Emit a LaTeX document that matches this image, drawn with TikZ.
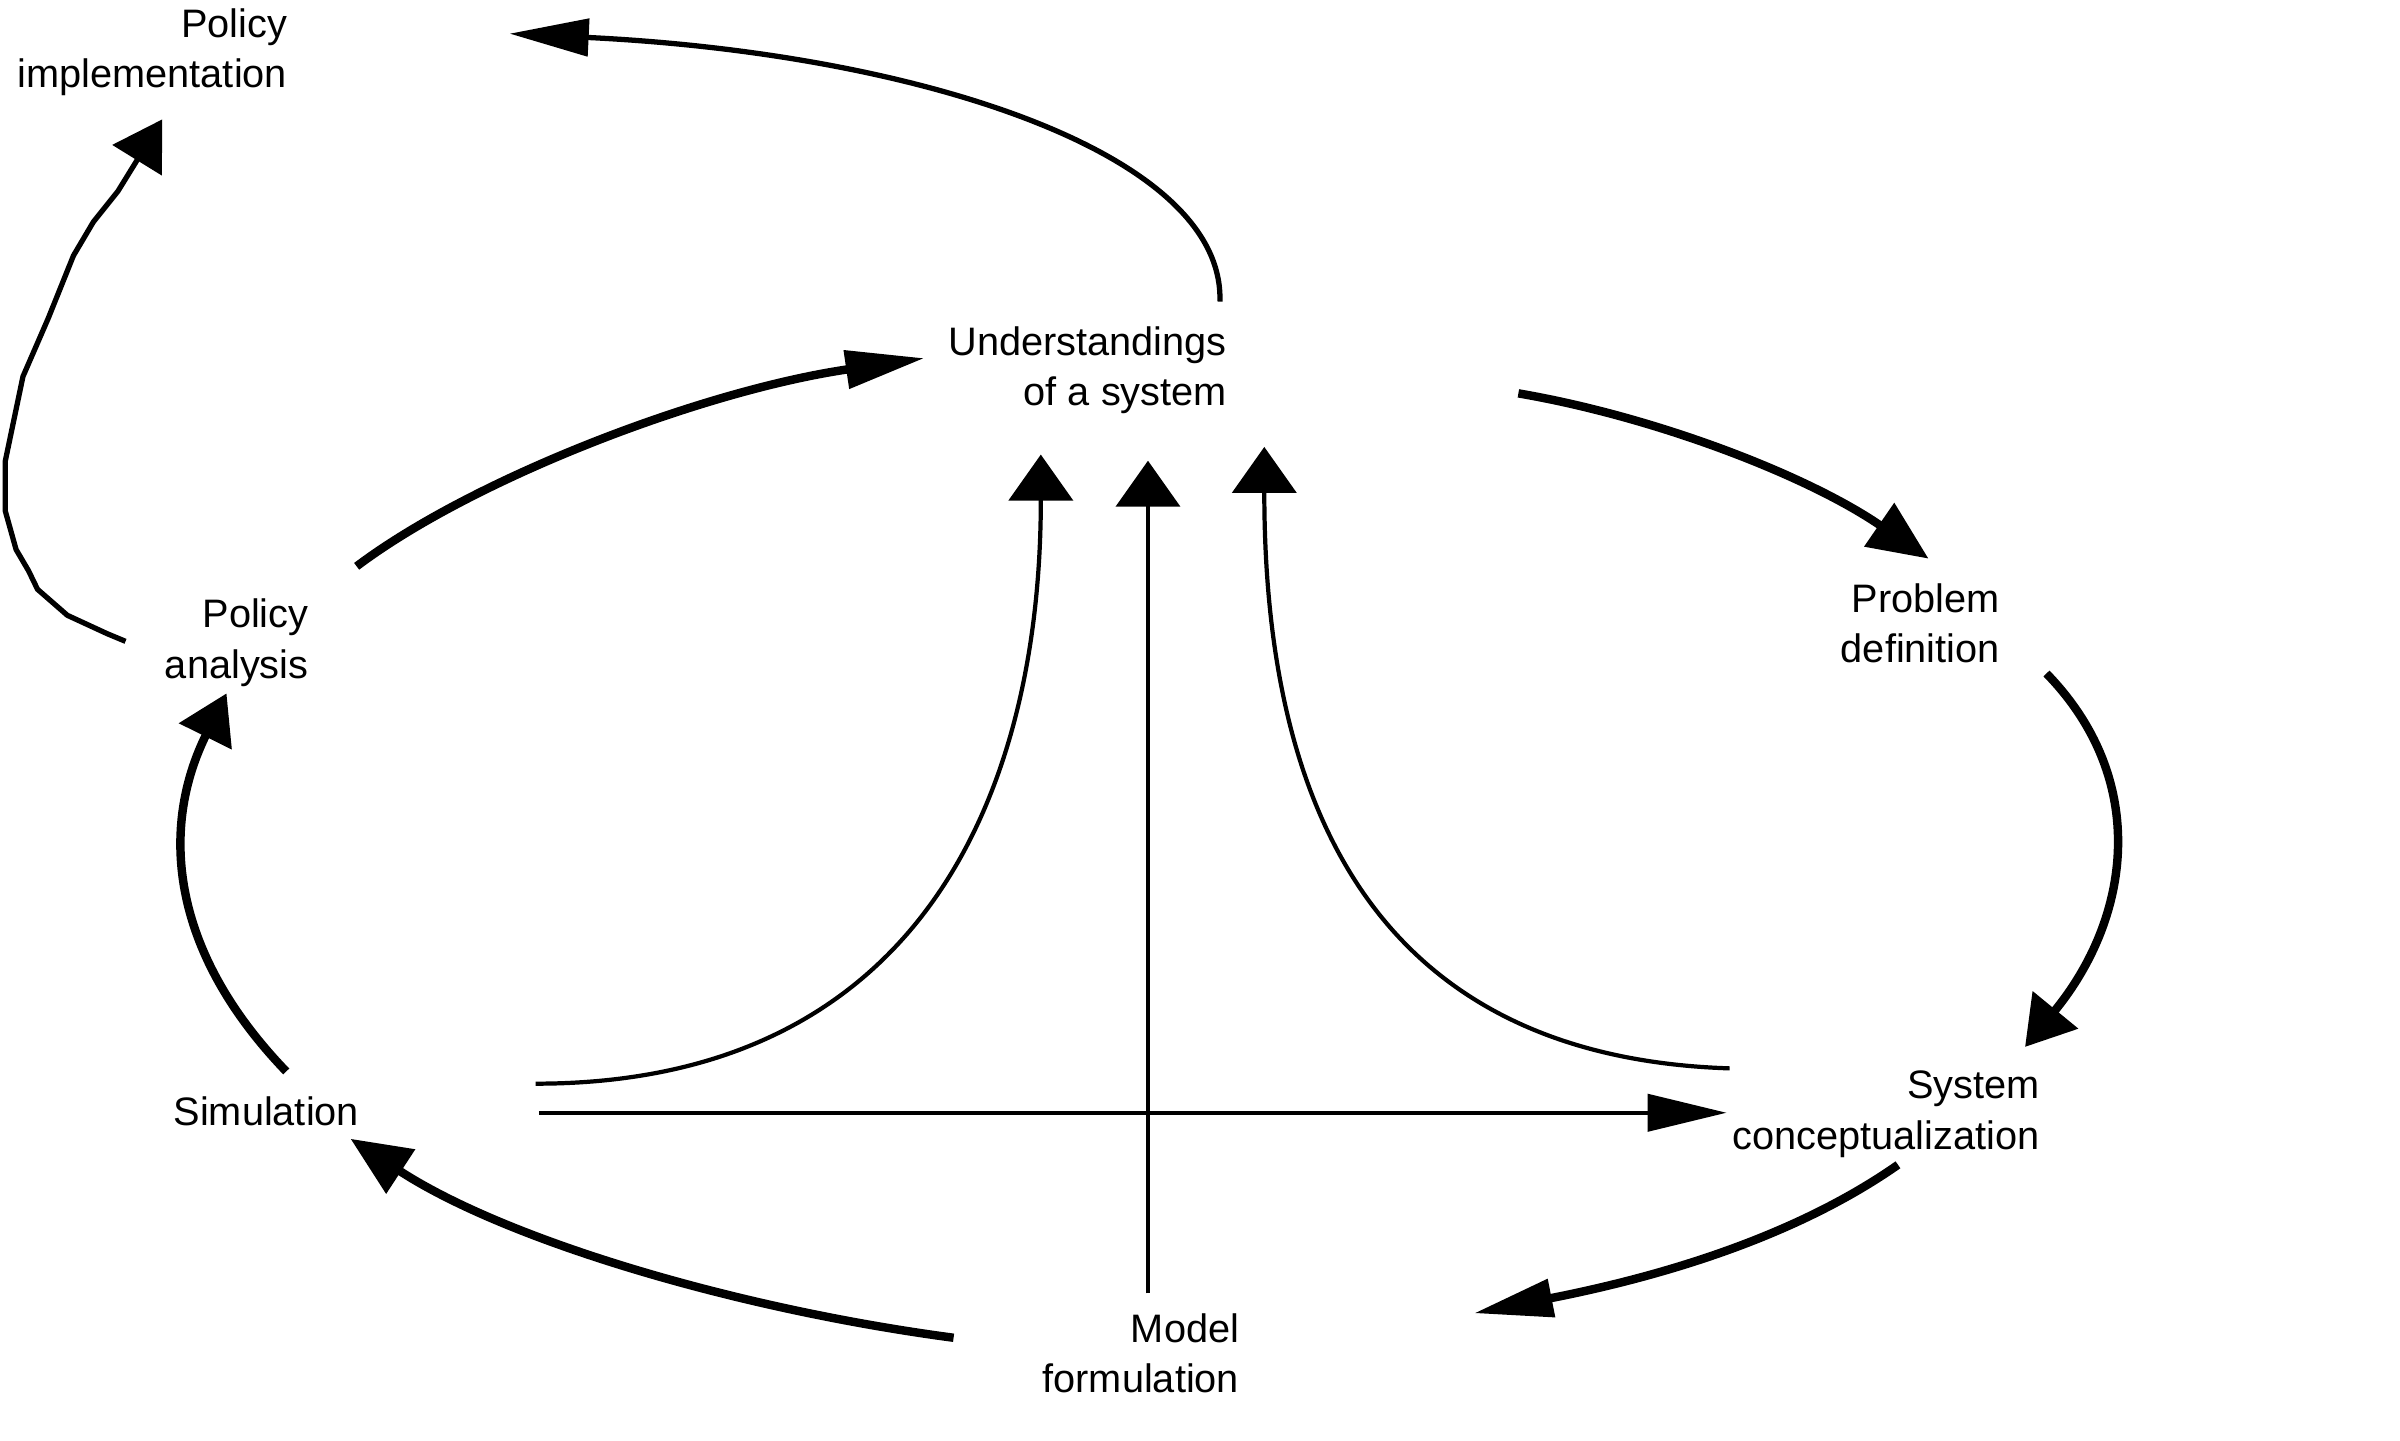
\documentclass[tikz,border=0pt]{standalone}
\usepackage{fontspec}
\setmainfont{Liberation Sans}
\usetikzlibrary{arrows.meta,calc}

\tikzset{
  lbl/.style={font=\fontsize{11.3}{14.3}\selectfont, inner sep=0pt, align=right},
  thinline/.style={line width=1.2pt},
  midline/.style={line width=1.5pt},
  thickline/.style={line width=2.4pt},
  longtip/.style={-{Triangle[length=0.79cm,width=0.37cm]}},
  midtip/.style={-{Triangle[length=0.6cm,width=0.51cm]}},
  widetip/.style={-{Triangle[length=0.48cm,width=0.57cm]}},
  uptip/.style={-{Triangle[length=0.46cm,width=0.64cm]}}
}

\begin{document}
\begin{tikzpicture}[x=0.015306cm, y=-0.015306cm]
\useasboundingbox (0,0) rectangle (1568,941);

% labels
\node[lbl, anchor=east] (impl) at (188,34) {Policy\\implementation};
\node[lbl, anchor=east] (und) at (802,242) {Understandings\\of a system};
\node[lbl, anchor=east] (prob) at (1307,407) {Problem\\definition};
\node[lbl, anchor=east] (sysc) at (1333,728) {System\\conceptualization};
\node[lbl, anchor=east] (model) at (810,884) {Model\\formulation};
\node[lbl] (sim) at (174,726) {Simulation};
\node[lbl, anchor=east] (pana) at (202,420) {Policy\\analysis};

% ends of the outer arrows
\coordinate (undTop) at (797,197);
\coordinate (implIn) at (333,22);
\coordinate (panaOut) at (82,419);
\coordinate (implIn2) at (106,78);
\coordinate (panaUp) at (233,370);
\coordinate (undIn) at (604,234);
\coordinate (undRight) at (992,257);
\coordinate (probIn) at (1260,365);
\coordinate (probOut) at (1337,440);
\coordinate (syscIn) at (1323,684);
\coordinate (syscOut) at (1240,761);
\coordinate (modelIn) at (963,858);
\coordinate (modelOut) at (623,874);
\coordinate (simIn) at (229,744);
\coordinate (simOut) at (187,700);
\coordinate (panaIn) at (148,453);

% ends of the inner arrows
\coordinate (simA) at (350,708);
\coordinate (simB) at (352,727);
\coordinate (syscA) at (1130,698);
\coordinate (syscB) at (1128,727);
\coordinate (modelA) at (750,845);
\coordinate (undA) at (680,297);
\coordinate (undB) at (750,301);
\coordinate (undC) at (826,292);

% outer cycle
\draw[thickline, longtip] (panaUp) .. controls (310,312) and (460,255) .. (undIn);
\draw[thickline, midtip] (undRight) .. controls (1080,272) and (1180,310) .. (probIn);
\draw[thickline, widetip] (probOut) .. controls (1405,510) and (1392,600) .. (syscIn);
\draw[thickline, longtip] (syscOut) .. controls (1170,810) and (1080,835) .. (modelIn);
\draw[thickline, midtip] (modelOut) .. controls (480,855) and (330,810) .. (simIn);
\draw[thickline, widetip] (simOut) .. controls (110,620) and (105,540) .. (panaIn);

% implementation
\draw[midline, longtip] (undTop) .. controls (800,100) and (600,35) .. (implIn);
\draw[midline, widetip] (panaOut) -- (70,414) -- (44,402) -- (24.5,385) -- (18.7,373) -- (10.5,359) -- (3.5,334) -- (3.5,301) -- (15,246) -- (31.5,208) -- (48,167) -- (61,145) -- (77,125) -- (implIn2);

% inner arrows
\draw[thinline, uptip] (simA) .. controls (600,708) and (680,520) .. (undA);
\draw[thinline, uptip] (modelA) -- (undB);
\draw[thinline, uptip] (syscA) .. controls (880,690) and (826,500) .. (undC);
\draw[thinline, longtip] (simB) -- (syscB);

\end{tikzpicture}
\end{document}
